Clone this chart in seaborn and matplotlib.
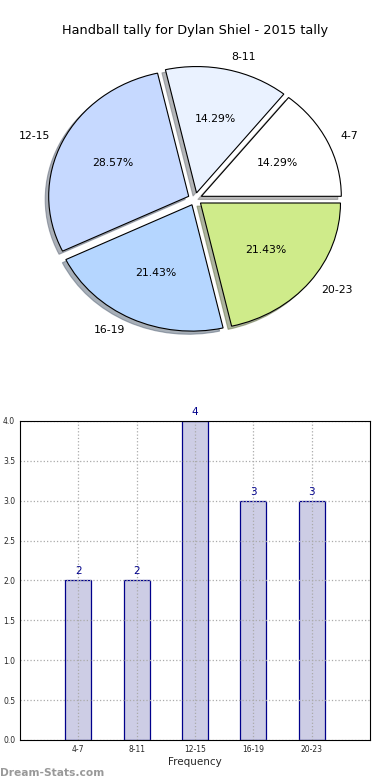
import matplotlib
matplotlib.use("Agg")
import matplotlib.pyplot as plt
import seaborn as sns
import pandas as pd

categories = ["4-7", "8-11", "12-15", "16-19", "20-23"]
counts = [2, 2, 4, 3, 3]
pie_colors = ["#ffffff", "#eaf2ff", "#c6d9ff", "#b5d6ff", "#cfeb8a"]
y_ticks = [0.0, 0.5, 1.0, 1.5, 2.0, 2.5, 3.0, 3.5, 4.0]
title = "Handball tally for Dylan Shiel - 2015 tally"

sns.set_theme(style="white")
plt.rcParams["font.family"] = ["DejaVu Sans"]

fig = plt.figure(figsize=(3.9, 7.8), dpi=100)

# Pie chart
ax1 = fig.add_axes([0.0513, 0.5423, 0.8974, 0.405])
wedges, texts, autotexts = ax1.pie(
    counts, labels=categories, colors=pie_colors, explode=[0.05] * len(counts),
    autopct="%.2f%%", shadow=dict(ox=-0.018, oy=-0.018, shade=0.55), startangle=0,
    wedgeprops=dict(edgecolor="black", linewidth=0.8),
    textprops=dict(fontsize=7.8, color="black"))
ax1.set_aspect("auto")
ax1.set_xlim(-1.25, 1.25)
ax1.set_ylim(-1.25, 1.25)
fig.text(0.5, 0.961, title, ha="center", va="center", fontsize=9.3, color="black")

# Bar chart
ax2 = fig.add_axes([0.0513, 0.0513, 0.8974, 0.409])
df = pd.DataFrame({"cat": categories, "count": counts})
sns.barplot(data=df, x="cat", y="count", color="#cdcde5", edgecolor="#00008b",
            linewidth=0.9, width=0.45, saturation=1, ax=ax2)
ax2.set_xlim(-1, 5)
ax2.set_ylim(0, 4)
ax2.set_yticks(y_ticks)
ax2.set_yticklabels([f"{v:.1f}" for v in y_ticks], fontsize=5.5)
ax2.tick_params(axis="x", labelsize=5.5)
ax2.tick_params(direction="in", length=3, color="#999999", width=0.8)
ax2.grid(True, linestyle=":", color="#aaaaaa", linewidth=0.9)
ax2.set_axisbelow(False)
for s in ax2.spines.values():
    s.set_color("black")
    s.set_linewidth(0.8)
    s.set_zorder(4)
ax2.set_xlabel("Frequency", fontsize=7.5, labelpad=2)
ax2.set_ylabel("")
for i, v in enumerate(counts):
    ax2.text(i, v + 0.05, str(v), ha="center", va="bottom", fontsize=7.5, color="#00008b")

fig.text(0.0, 0.003, "Dream-Stats.com", ha="left", va="bottom", fontsize=7.7,
         color="#999999", fontweight="semibold")

fig.savefig("out.png", dpi=100)
